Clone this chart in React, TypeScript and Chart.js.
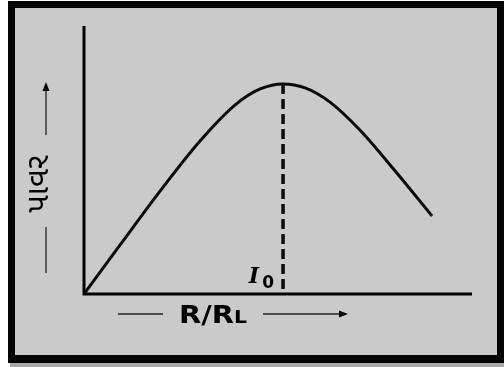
import React, { useEffect, useRef } from "react";
import { Chart, registerables } from "chart.js";

Chart.register(...registerables);

// Curve (R/RL on x, power on y; arbitrary units 0..100)
const curveX = [0, 9.3, 19.6, 29.9, 38.9, 45.4, 51.3, 57.0, 63.4, 71.1, 80.2, 89.7];
const curveY = [0, 18.3, 38.4, 57.1, 70.5, 76.5, 78.4, 76.9, 71.6, 61.2, 45.9, 29.1];
const peakX = [51.3, 51.3];
const peakY = [78.4, 0];
const xTitle = "R/R";
const xTitleSub = "L";
const yTitle = "પાવર";
const peakLabel = "I";
const peakLabelSub = "0";

const framePlugin = {
  id: "frame",
  beforeDraw(chart: any) {
    const ctx = chart.ctx;
    const W = chart.width;
    const H = chart.height;
    ctx.save();
    ctx.fillStyle = "#ffffff";
    ctx.fillRect(0, 0, W, H);
    ctx.fillStyle = "#a8a8a8";
    ctx.fillRect(10, 362, W - 10, 5);
    ctx.fillStyle = "#050505";
    ctx.fillRect(8, 1, W - 8, 362);
    ctx.fillStyle = "#cacaca";
    ctx.fillRect(15, 8, 482, 347);
    ctx.restore();
  },
  afterDatasetsDraw(chart: any) {
    const ctx = chart.ctx;
    const a = chart.chartArea;
    ctx.save();
    ctx.strokeStyle = "#000";
    ctx.fillStyle = "#000";
    ctx.lineWidth = 3;
    ctx.lineCap = "butt";
    // axes
    ctx.beginPath();
    ctx.moveTo(a.left, a.top);
    ctx.lineTo(a.left, a.bottom);
    ctx.lineTo(a.right, a.bottom);
    ctx.stroke();

    // x title (slightly widened bold sans)
    const cy = 314;
    const sx = 1.2;
    ctx.textBaseline = "alphabetic";
    ctx.textAlign = "left";
    ctx.font = "bold 24px 'DejaVu Sans', sans-serif";
    const mainW = ctx.measureText(xTitle).width * sx;
    ctx.font = "bold 17px 'DejaVu Sans', sans-serif";
    const subW = ctx.measureText(xTitleSub).width * sx;
    const tx = 213 - (mainW + subW) / 2;
    ctx.save();
    ctx.translate(tx, 323);
    ctx.scale(sx, 1);
    ctx.font = "bold 24px 'DejaVu Sans', sans-serif";
    ctx.fillText(xTitle, 0, 0);
    ctx.font = "bold 17px 'DejaVu Sans', sans-serif";
    ctx.fillText(xTitleSub, mainW / sx, 0);
    ctx.restore();

    ctx.lineWidth = 1.3;
    ctx.strokeStyle = "#222";
    ctx.beginPath();
    ctx.moveTo(118, cy);
    ctx.lineTo(163, cy);
    ctx.moveTo(263, cy);
    ctx.lineTo(340, cy);
    ctx.stroke();
    ctx.beginPath();
    ctx.moveTo(348, cy);
    ctx.lineTo(339, cy - 3.5);
    ctx.lineTo(339, cy + 3.5);
    ctx.closePath();
    ctx.fill();

    // y title
    const cx = 46;
    ctx.beginPath();
    ctx.moveTo(cx, 273);
    ctx.lineTo(cx, 227);
    ctx.moveTo(cx, 135);
    ctx.lineTo(cx, 91);
    ctx.stroke();
    ctx.beginPath();
    ctx.moveTo(cx, 82);
    ctx.lineTo(cx - 3.5, 91);
    ctx.lineTo(cx + 3.5, 91);
    ctx.closePath();
    ctx.fill();
    ctx.save();
    ctx.translate(cx - 4, 184);
    ctx.rotate(-Math.PI / 2);
    ctx.textAlign = "center";
    ctx.textBaseline = "middle";
    ctx.font = "31px 'Noto Sans Gujarati', 'Noto Sans', 'DejaVu Sans', sans-serif";
    ctx.fillText(yTitle, 0, 0);
    ctx.restore();

    // peak label
    const px = chart.scales.x.getPixelForValue(peakX[0]);
    ctx.textAlign = "right";
    ctx.textBaseline = "alphabetic";
    ctx.font = "italic bold 22px 'DejaVu Serif', 'Liberation Serif', serif";
    ctx.fillText(peakLabel, px - 24, 283);
    ctx.font = "bold 17px 'DejaVu Sans', sans-serif";
    ctx.fillText(peakLabelSub, px - 9, 288);
    ctx.restore();
  },
};

export default function App() {
  const ref = useRef<HTMLCanvasElement>(null);
  useEffect(() => {
    document.body.style.margin = "0";
    const canvas = ref.current;
    if (!canvas) return;
    const chart = new Chart(canvas, {
      type: "line",
      data: {
        datasets: [
          {
            data: curveX.map((x, i) => ({ x, y: curveY[i] })),
            borderColor: "#0a0a0a",
            borderWidth: 3,
            pointRadius: 0,
            cubicInterpolationMode: "monotone",
            fill: false,
          },
          {
            data: peakX.map((x, i) => ({ x, y: peakY[i] })),
            borderColor: "#0a0a0a",
            borderWidth: 3.5,
            borderDash: [10, 5],
            pointRadius: 0,
            fill: false,
          },
        ],
      },
      options: {
        animation: false,
        responsive: true,
        maintainAspectRatio: false,
        layout: { padding: { left: 84, right: 32, top: 26, bottom: 73 } },
        plugins: { legend: { display: false }, tooltip: { enabled: false } },
        scales: {
          x: { type: "linear", min: 0, max: 100, display: false },
          y: { type: "linear", min: 0, max: 100, display: false },
        },
      },
      plugins: [framePlugin],
    });
    return () => chart.destroy();
  }, []);
  return (
    <div style={{ width: 504, height: 367, position: "relative" }}>
      <canvas ref={ref} />
    </div>
  );
}
